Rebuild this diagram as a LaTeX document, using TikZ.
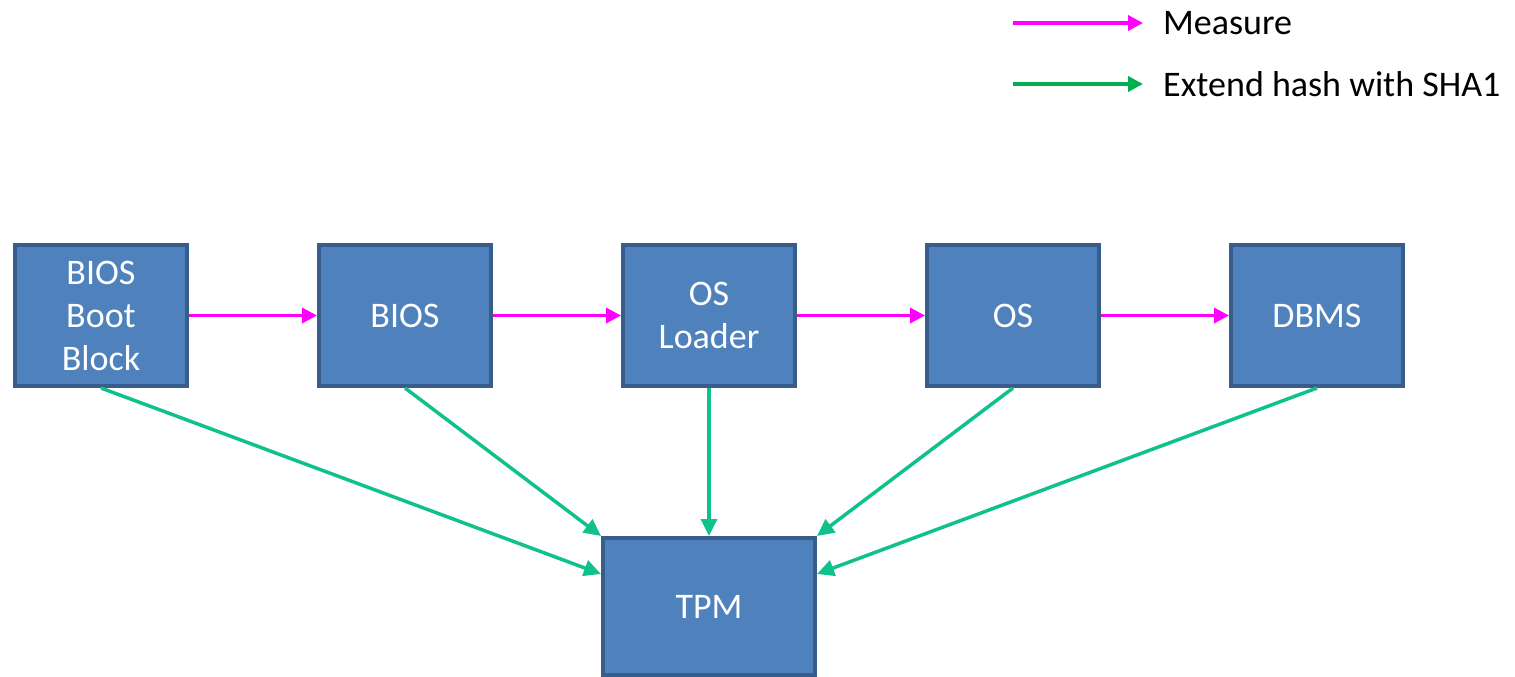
\documentclass[tikz,border=0pt]{standalone}
\usepackage{fontspec}
\setmainfont{Carlito}
\usetikzlibrary{arrows.meta}
\definecolor{boxfill}{HTML}{4F81BD}
\definecolor{boxline}{HTML}{385D8A}
\definecolor{measure}{HTML}{FF00FF}
\definecolor{extend}{HTML}{10C18D}
\definecolor{legendgreen}{HTML}{00B050}
\begin{document}
\begin{tikzpicture}[x=1pt,y=-1pt,
  blk/.style={draw=boxline,fill=boxfill,line width=4pt,minimum width=172pt,minimum height=141pt,
    text=white,align=center,font=\fontsize{36}{43}\selectfont,inner sep=0pt},
  tpmbox/.style={blk,minimum width=212pt,minimum height=137pt},
  marr/.style={draw=measure,line width=3.5pt,-{Triangle[length=15pt,width=15pt]}},
  earr/.style={draw=extend,line width=3.5pt,-{Triangle[length=17pt,width=16pt]}},
  larr/.style={draw=legendgreen,line width=3.5pt,-{Triangle[length=15pt,width=15pt]}},
  lbl/.style={anchor=west,font=\fontsize{36}{43}\selectfont,inner sep=0pt}]
\useasboundingbox (0,0) rectangle (1515,677);
\node[blk] (bbb) at (101,315.5) {BIOS\\Boot\\Block};
\node[blk] (bios) at (405,315.5) {BIOS};
\node[blk] (osl) at (709,315.5) {OS\\Loader};
\node[blk] (os) at (1013,315.5) {OS};
\node[blk] (dbms) at (1317,315.5) {DBMS};
\node[tpmbox] (tpm) at (709,606.5) {TPM};
% measure chain
\draw[marr] (bbb.east) -- (bios.west);
\draw[marr] (bios.east) -- (osl.west);
\draw[marr] (osl.east) -- (os.west);
\draw[marr] (os.east) -- (dbms.west);
% extend to TPM
\coordinate (tL) at ([yshift=-38pt]tpm.north west);
\coordinate (tR) at ([yshift=-38pt]tpm.north east);
\draw[earr] (bbb.south) -- (tL);
\draw[earr] (bios.south) -- (tpm.north west);
\draw[earr] (osl.south) -- (tpm.north);
\draw[earr] (os.south) -- (tpm.north east);
\draw[earr] (dbms.south) -- (tR);
% legend
\coordinate (m1) at (1013,23);
\coordinate (m2) at (1143,23);
\coordinate (g1) at (1013,84);
\coordinate (g2) at (1143,84);
\draw[marr] (m1) -- (m2);
\draw[larr] (g1) -- (g2);
\node[lbl] (lm) at (1163,23) {Measure};
\node[lbl] (lg) at (1163,84) {Extend hash with SHA1};
\end{tikzpicture}
\end{document}
